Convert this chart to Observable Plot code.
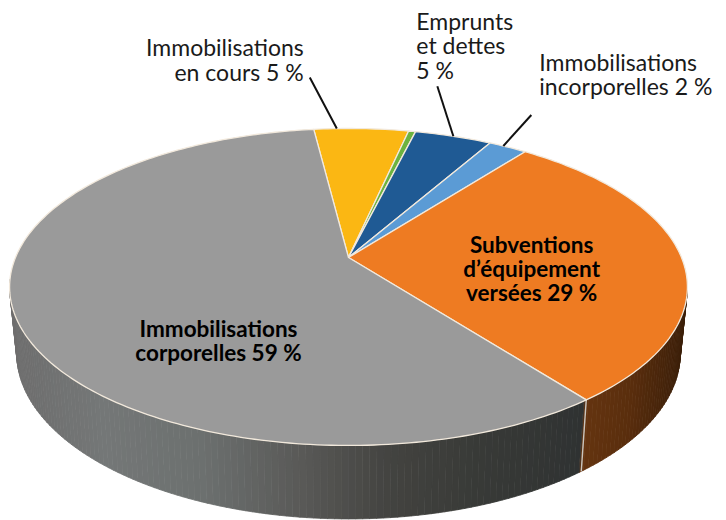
<!DOCTYPE html>
<html><head><meta charset="utf-8">
<script src="https://cdn.jsdelivr.net/npm/d3@7"></script>
<script src="https://cdn.jsdelivr.net/npm/@observablehq/plot@0.6"></script>
<style>html,body{margin:0;padding:0;background:#fff}svg{display:block}</style>
</head><body><div id="chart"></div>
<script>
const sliceNames = ["Immobilisations en cours","Autres","Emprunts et dettes","Immobilisations incorporelles","Subventions d’équipement versées","Immobilisations corporelles"];
const sliceValues = [5.4,0.4,4.4,2.2,29.2,58.5];
const sliceColors = ["#fbb713","#6cb33f","#1f5a94","#5b9bd5","#ee7b22","#9a9a9a"];
const wallColors  = [null,null,null,null,"#5a2f0e","#3a3b39"];
const startDeg = -7.1;

// Perspective projection of the unit disc on to the SVG plane
const T = {a:333,b:105.2,c:257,k:-0.186,cx:348};   // top face
const B = {a:326,b:100,c:322,k:-0.186,cx:348};     // bottom face
const rad = Math.PI/180;
function project(deg,r,P=T){
  const u=r*Math.sin(deg*rad), v=-r*Math.cos(deg*rad), d=1+P.k*v;
  return {x:P.cx+P.a*u/d, y:(P.c+P.b*v)/d};
}
const arcs = d3.pie().sort(null).startAngle(startDeg*rad).endAngle((startDeg+360)*rad)(sliceValues)
  .map((s,i)=>({name:sliceNames[i],fill:sliceColors[i],wall:wallColors[i],a0:s.startAngle/rad,a1:s.endAngle/rad}));

// top faces
const topPts = arcs.flatMap(s=>{
  const n=Math.max(2,Math.ceil(s.a1-s.a0));
  const pts=[{...project(0,0),name:s.name,fill:s.fill}];
  for(let i=0;i<=n;i++) pts.push({...project(s.a0+(s.a1-s.a0)*i/n,1),name:s.name,fill:s.fill});
  return pts;
});

// side wall: strips shaded from left to right
const grayShade = d3.scaleLinear().domain([15,100,200,300,390,480,585]).range(["#6e6e6e","#747777","#6c706f","#595957","#434340","#383a37","#2f3232"]);
const brownShade = d3.scaleLinear().domain([585,630,680]).range(["#643410","#5a2e0d","#3e2009"]);
const wallStart=100, wallEnd=262, seam=arcs[5].a0;
const strips=[];
for(let d=wallStart;d<wallEnd;d+=1){
  const p=project(d,1),q=project(d+1,1),r=project(d+1,1,B),s=project(d,1,B);
  const mid=(p.x+q.x)/2;
  const col = d<seam ? brownShade(mid) : grayShade(mid);
  [p,q,r,s].forEach(o=>strips.push({...o,id:d,col}));
}
const seamTop=project(seam,1), seamBot=project(seam,1,B);
const seamLine=[{x1:seamTop.x,y1:seamTop.y,x2:seamBot.x,y2:seamBot.y}];

const pieMid = s=>(s.a0+s.a1)/2;
const byName = n=>arcs.find(s=>s.name===n);
const outerLabels = [
 {slice:sliceNames[0],text:"Immobilisations\nen cours 5 %",shift:-5,lx:-27,ly:-51,dx:-33,dy:-68,anchor:"end"},
 {slice:sliceNames[2],text:"Emprunts\net dettes\n5 %",shift:0,lx:-16,ly:-50,dx:-37,dy:-90,anchor:"start"},
 {slice:sliceNames[3],text:"Immobilisations\nincorporelles 2 %",shift:-1,lx:28,ly:-31,dx:36,dy:-71,anchor:"start"}
].map(l=>{const p=project(pieMid(byName(l.slice))+l.shift,1);return {...l,x:p.x,y:p.y};});
const innerLabels = [
 {slice:sliceNames[4],text:"Subventions\nd’équipement\nversées 29 %",r:0.55,dx:0,dy:12},
 {slice:sliceNames[5],text:"Immobilisations\ncorporelles 59 %",r:0.6,dx:63,dy:47}
].map(l=>{const p=project(pieMid(byName(l.slice)),l.r);return {...l,x:p.x,y:p.y};});

const font="Lato, sans-serif";
const chart = Plot.plot({
  width:726,height:520,margin:0,
  x:{domain:[0,726],range:[0,726],axis:null},
  y:{domain:[0,520],range:[0,520],axis:null},
  color:{type:"identity"},
  marks:[
    Plot.line(strips,{x:"x",y:"y",z:"id",fill:"col",stroke:"col",strokeWidth:0.8,curve:"linear-closed"}),
    Plot.link(seamLine,{x1:"x1",y1:"y1",x2:"x2",y2:"y2",stroke:"#c9c5bf",strokeWidth:1.4}),
    Plot.line(topPts,{x:"x",y:"y",z:"name",fill:"fill",stroke:"#f2e9dc",strokeWidth:1.3,strokeLinejoin:"round",curve:"linear-closed"}),
    Plot.link(outerLabels,{x1:"x",y1:"y",x2:d=>d.x+d.lx,y2:d=>d.y+d.ly,stroke:"#111",strokeWidth:2}),
    ...outerLabels.map(l=>Plot.text([l],{x:d=>d.x+d.dx,y:d=>d.y+d.dy,text:"text",textAnchor:l.anchor,lineAnchor:"middle",lineHeight:1.07,fontSize:23,fontFamily:font,fill:"#1a1a1a"})),
    ...innerLabels.map(l=>Plot.text([l],{x:d=>d.x+d.dx,y:d=>d.y+d.dy,text:"text",textAnchor:"middle",lineAnchor:"middle",lineHeight:1.07,fontSize:22.5,fontWeight:700,fontFamily:font,fill:"#000"}))
  ]
});
document.getElementById("chart").append(chart);
</script></body></html>
